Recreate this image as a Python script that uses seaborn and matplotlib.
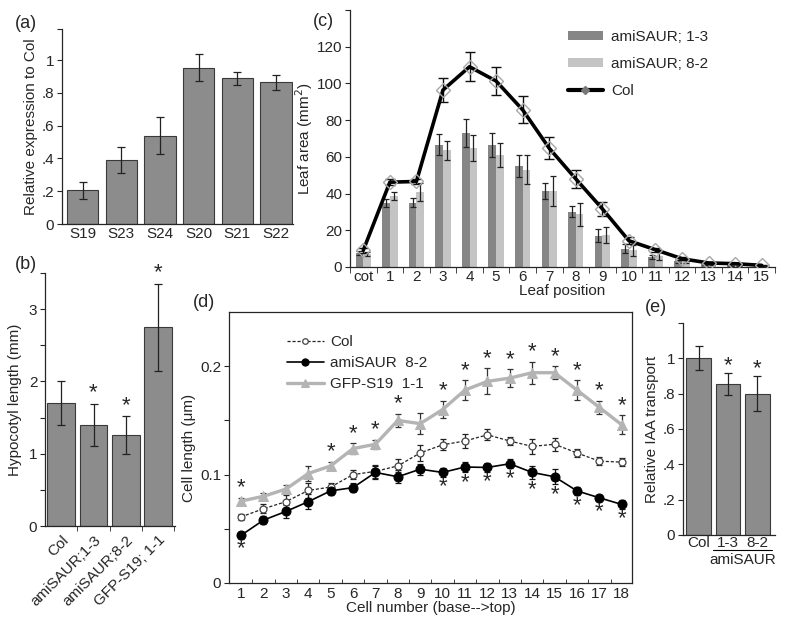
import numpy as np
import pandas as pd
import matplotlib
matplotlib.use("Agg")
import matplotlib.pyplot as plt
from matplotlib.lines import Line2D
from matplotlib.patches import Patch
import seaborn as sns

# (a) relative expression
genes = ["S19", "S23", "S24", "S20", "S21", "S22"]
expr = [0.205, 0.39, 0.54, 0.955, 0.89, 0.865]
expr_err = [0.05, 0.08, 0.11, 0.08, 0.04, 0.045]

# (b) hypocotyl length
lines_b = ["Col", "amiSAUR;1-3", "amiSAUR;8-2", "GFP-S19; 1-1"]
hypo = [1.7, 1.4, 1.26, 2.75]
hypo_err = [0.3, 0.29, 0.26, 0.6]
hypo_star = [False, True, True, True]

# (c) leaf area
leaves = ["cot"] + [str(i) for i in range(1, 16)]
area_13 = [7.6, 35, 35, 66.7, 73, 66.5, 54.8, 41.5, 30, 17.1, 10, 5.5, 3, 1.5, 1, 0.5]
area_13_err = [1, 2.3, 2.5, 5.6, 7.4, 6.7, 6, 4.5, 3, 3.5, 2.3, 1.3, 0.8, 0.5, 0.4, 0.3]
area_82 = [7, 38.6, 41, 63.5, 65, 61, 53, 41.4, 28.6, 17.3, 9, 6, 3, 1.5, 1, 0.5]
area_82_err = [1, 2, 5, 5.2, 7, 6.4, 7.8, 7.9, 6.5, 4.3, 3, 2, 1, 0.5, 0.4, 0.3]
area_col = [9.1, 46.2, 46.6, 96.4, 109.1, 101.3, 85.6, 64.7, 48, 31.7, 14.3, 9.4, 4.5, 2.2, 1.8, 0.9]
area_col_err = [1.4, 1.8, 1.6, 6.3, 8, 7.4, 7.4, 5.9, 4.7, 3.9, 2, 1.2, 0.8, 0.5, 0.4, 0.3]

# (d) cell length
cells = list(range(1, 19))
col_len = [0.061, 0.0685, 0.075, 0.0854, 0.0885, 0.100, 0.103, 0.108, 0.120, 0.1275,
           0.131, 0.1367, 0.131, 0.126, 0.128, 0.120, 0.1124, 0.1115]
col_len_err = [0.003, 0.004, 0.006, 0.007, 0.004, 0.004, 0.006, 0.006, 0.007, 0.005,
               0.006, 0.005, 0.004, 0.007, 0.006, 0.004, 0.004, 0.004]
ami_len = [0.044, 0.058, 0.066, 0.075, 0.085, 0.088, 0.102, 0.098, 0.105, 0.102,
           0.107, 0.1066, 0.110, 0.102, 0.098, 0.085, 0.0786, 0.0725]
ami_len_err = [0.003, 0.004, 0.006, 0.007, 0.004, 0.004, 0.006, 0.006, 0.005, 0.004,
               0.005, 0.004, 0.004, 0.006, 0.007, 0.004, 0.003, 0.004]
gfp_len = [0.0756, 0.080, 0.0866, 0.101, 0.108, 0.124, 0.128, 0.150, 0.147, 0.160,
           0.178, 0.186, 0.189, 0.194, 0.194, 0.178, 0.162, 0.146]
gfp_len_err = [0.003, 0.003, 0.004, 0.007, 0.004, 0.005, 0.004, 0.006, 0.010, 0.008,
               0.009, 0.012, 0.008, 0.010, 0.006, 0.009, 0.006, 0.009]
gfp_star_cells = [1, 5, 6, 7, 8, 10, 11, 12, 13, 14, 15, 16, 17, 18]
ami_star_cells = [1, 10, 11, 12, 13, 14, 15, 16, 17, 18]

# (e) IAA transport
lines_e = ["Col", "1-3", "8-2"]
iaa = [1.0, 0.855, 0.80]
iaa_err = [0.067, 0.06, 0.098]
iaa_star = [False, True, True]

sns.set_style("ticks")
plt.rcParams["font.family"] = ["Liberation Sans", "DejaVu Sans"]
plt.rcParams["font.size"] = 11
plt.rcParams["axes.linewidth"] = 0.9
plt.rcParams["xtick.major.size"] = 3.5
plt.rcParams["ytick.major.size"] = 3.5
plt.rcParams["ytick.major.pad"] = 2

W, H = 786, 624
fig = plt.figure(figsize=(W / 100, H / 100), dpi=100)


def px_axes(left, right, top, bottom):
    return fig.add_axes([left / W, 1 - bottom / H, (right - left) / W, (bottom - top) / H])


bar_grey = "#8c8c8c"
edge = "#3a3a3a"
fs = 11

# ---------- (a)
ax_a = px_axes(62, 293, 29, 224)
sns.barplot(x=genes, y=expr, color=bar_grey, edgecolor=edge, linewidth=0.8,
            width=0.81, saturation=1, errorbar=None, ax=ax_a)
ax_a.errorbar(np.arange(len(genes)), expr, yerr=expr_err, fmt="none", ecolor="#222",
              elinewidth=0.9, capsize=3, capthick=0.9)
ax_a.set_xlim(-0.53, 5.44)
ax_a.set_ylim(0, 1.19)
ax_a.set_yticks([0, 0.2, 0.4, 0.6, 0.8, 1.0, 1.19])
ax_a.set_yticklabels(["0", ".2", ".4", ".6", ".8", "1", ""])
ax_a.tick_params(axis="x", length=0, pad=2)
ax_a.set_ylabel("Relative expression to Col", labelpad=3)
sns.despine(ax=ax_a)

# ---------- (b)
ax_b = px_axes(45, 175, 273, 526)
sns.barplot(x=lines_b, y=hypo, color=bar_grey, edgecolor=edge, linewidth=0.8,
            width=0.86, saturation=1, errorbar=None, ax=ax_b)
ax_b.errorbar(np.arange(len(lines_b)), hypo, yerr=hypo_err, fmt="none", ecolor="#222",
              elinewidth=0.9, capsize=3, capthick=0.9)
for i, s in enumerate(hypo_star):
    if s:
        ax_b.text(i, hypo[i] + hypo_err[i] + 0.15, "*", ha="center", va="center", fontsize=16)
ax_b.set_xlim(-0.5, 3.52)
ax_b.set_ylim(0, 3.5)
ax_b.set_yticks([0, 0.5, 1, 1.5, 2, 2.5, 3, 3.5])
ax_b.set_yticklabels(["0", "", "1", "", "2", "", "3", ""])
ax_b.set_xticks(np.arange(len(lines_b)))
ax_b.set_xticklabels(lines_b, rotation=45, ha="right", rotation_mode="anchor")
ax_b.set_xticks(np.arange(len(lines_b)) + 0.5, minor=True)
ax_b.tick_params(axis="x", which="major", length=0, pad=5)
ax_b.tick_params(axis="x", which="minor", length=3.5, direction="out")
ax_b.set_ylabel("Hypocotyl length (mm)", labelpad=5)
ax_b.set_xlabel("")
sns.despine(ax=ax_b)

# ---------- (c)
ax_c = px_axes(350, 775, 10, 267)
df_c = pd.DataFrame({
    "leaf": leaves * 2,
    "line": ["amiSAUR; 1-3"] * len(leaves) + ["amiSAUR; 8-2"] * len(leaves),
    "area": area_13 + area_82,
})
dark, light = "#868686", "#c4c4c4"
bw = 0.58
sns.barplot(data=df_c, x="leaf", y="area", hue="line", palette=[dark, light],
            width=bw, saturation=1, errorbar=None, legend=False, linewidth=0, ax=ax_c)
pos = np.arange(len(leaves))
ax_c.errorbar(pos - bw / 4, area_13, yerr=area_13_err, fmt="none", ecolor="#222",
              elinewidth=0.9, capsize=2.5, capthick=0.9)
ax_c.errorbar(pos + bw / 4, area_82, yerr=area_82_err, fmt="none", ecolor="#222",
              elinewidth=0.9, capsize=2.5, capthick=0.9)
ax_c.errorbar(pos, area_col, yerr=area_col_err, fmt="none", ecolor="#111",
              elinewidth=1.0, capsize=3.6, capthick=1.0, zorder=4)
sns.lineplot(x=pos, y=area_col, color="black", linewidth=2.6, marker="D", markersize=7,
             markerfacecolor="none", markeredgecolor="#a8a8a8", markeredgewidth=1.0,
             sort=False, zorder=5, ax=ax_c)
ax_c.set_xlim(-0.5, 15.5)
ax_c.set_ylim(0, 140)
ax_c.set_yticks([0, 20, 40, 60, 80, 100, 120, 140])
ax_c.set_yticklabels(["0", "20", "40", "60", "80", "100", "120", ""])
ax_c.set_xticks(pos)
ax_c.set_xticklabels(leaves)
ax_c.set_xticks(np.arange(-0.5, 16, 1), minor=True)
ax_c.tick_params(axis="x", which="major", length=0, pad=2)
ax_c.tick_params(axis="x", which="minor", length=4, direction="out")
ax_c.set_xlabel("Leaf position", labelpad=0)
ax_c.set_ylabel("Leaf area (mm$^2$)", labelpad=1)
handles_c = [Patch(facecolor=dark, edgecolor="none"),
             Patch(facecolor=light, edgecolor="none"),
             Line2D([], [], color="black", lw=3, marker="D", markersize=4,
                    markerfacecolor="#777", markeredgecolor="#777")]
ax_c.legend(handles_c, ["amiSAUR; 1-3", "amiSAUR; 8-2", "Col"], loc="upper left",
            bbox_to_anchor=(0.48, 0.975), frameon=False, handlelength=2.3,
            handleheight=0.55, handletextpad=0.55, labelspacing=0.85, fontsize=fs)
sns.despine(ax=ax_c)

# ---------- (d)
ax_d = px_axes(229, 632, 312, 583)
ax_d.errorbar(cells, gfp_len, yerr=gfp_len_err, fmt="none", ecolor="#333",
              elinewidth=0.9, capsize=2.5, capthick=0.9, zorder=2)
ax_d.errorbar(cells, col_len, yerr=col_len_err, fmt="none", ecolor="#222",
              elinewidth=0.9, capsize=2.5, capthick=0.9, zorder=2)
ax_d.errorbar(cells, ami_len, yerr=ami_len_err, fmt="none", ecolor="#111",
              elinewidth=0.9, capsize=2.5, capthick=0.9, zorder=2)
sns.lineplot(x=cells, y=col_len, color="#222", linewidth=0.9, linestyle=(0, (2.5, 1.5)),
             marker="o", markersize=5, markerfacecolor="white", markeredgecolor="#444",
             markeredgewidth=0.9, label="Col", zorder=3, ax=ax_d)
sns.lineplot(x=cells, y=ami_len, color="black", linewidth=1.2, marker="o", markersize=6.5,
             markeredgecolor="black", label="amiSAUR  8-2", zorder=3, ax=ax_d)
sns.lineplot(x=cells, y=gfp_len, color="#b4b4b4", linewidth=2.4, marker="^", markersize=7,
             markeredgecolor="#b4b4b4", label="GFP-S19  1-1", zorder=3, ax=ax_d)
for c in gfp_star_cells:
    ax_d.text(c, gfp_len[c - 1] + gfp_len_err[c - 1] + 0.009, "*", ha="center",
              va="center", fontsize=16)
for c in ami_star_cells:
    ax_d.text(c, ami_len[c - 1] - ami_len_err[c - 1] - 0.0095, "*", ha="center",
              va="center", fontsize=16)
ax_d.set_xlim(0.46, 18.46)
ax_d.set_ylim(0, 0.25)
ax_d.set_yticks([0, 0.05, 0.1, 0.15, 0.2])
ax_d.set_yticklabels(["0", "", "0.1", "", "0.2"])
ax_d.set_xticks(cells)
ax_d.set_xticks(np.arange(1.5, 18, 1), minor=True)
ax_d.tick_params(axis="x", which="major", length=0, pad=3)
ax_d.tick_params(axis="x", which="minor", length=3, direction="in")
ax_d.set_xlabel("Cell number (base-->top)", labelpad=0)
ax_d.set_ylabel("Cell length (\u03bcm)", labelpad=3)
ax_d.legend(loc="upper left", bbox_to_anchor=(0.11, 0.965), frameon=False, handlelength=2.4,
            handletextpad=0.4, labelspacing=0.45, markerscale=0.8, fontsize=fs)
for sp in ax_d.spines.values():
    sp.set_linewidth(0.9)

# ---------- (e)
ax_e = px_axes(683, 775, 323, 535)
sns.barplot(x=lines_e, y=iaa, color=bar_grey, edgecolor=edge, linewidth=0.8,
            width=0.83, saturation=1, errorbar=None, ax=ax_e)
ax_e.errorbar(np.arange(len(lines_e)), iaa, yerr=iaa_err, fmt="none", ecolor="#222",
              elinewidth=0.9, capsize=3, capthick=0.9)
for i, s in enumerate(iaa_star):
    if s:
        ax_e.text(i, iaa[i] + iaa_err[i] + 0.045, "*", ha="center", va="center", fontsize=16)
ax_e.set_xlim(-0.53, 2.6)
ax_e.set_ylim(0, 1.2)
ax_e.set_yticks([0, 0.2, 0.4, 0.6, 0.8, 1.0, 1.2])
ax_e.set_yticklabels(["0", ".2", ".4", ".6", ".8", "1", ""])
ax_e.tick_params(axis="x", length=0, pad=1)
ax_e.set_ylabel("Relative IAA transport", labelpad=3)
sns.despine(ax=ax_e)
ax_e.plot([0.5, 2.5], [-0.07, -0.07], color="black", lw=0.8, clip_on=False,
          transform=ax_e.get_xaxis_transform())
ax_e.text(1.5, -0.085, "amiSAUR", ha="center", va="top", fontsize=fs,
          transform=ax_e.get_xaxis_transform())

# panel letters
for lab, x, y in [("(a)", 15, 24), ("(b)", 15, 264), ("(c)", 313, 22),
                  ("(d)", 193, 302), ("(e)", 645, 307)]:
    fig.text(x / W, 1 - y / H, lab, ha="left", va="center", fontsize=13)

fig.savefig("out.png", dpi=100)
